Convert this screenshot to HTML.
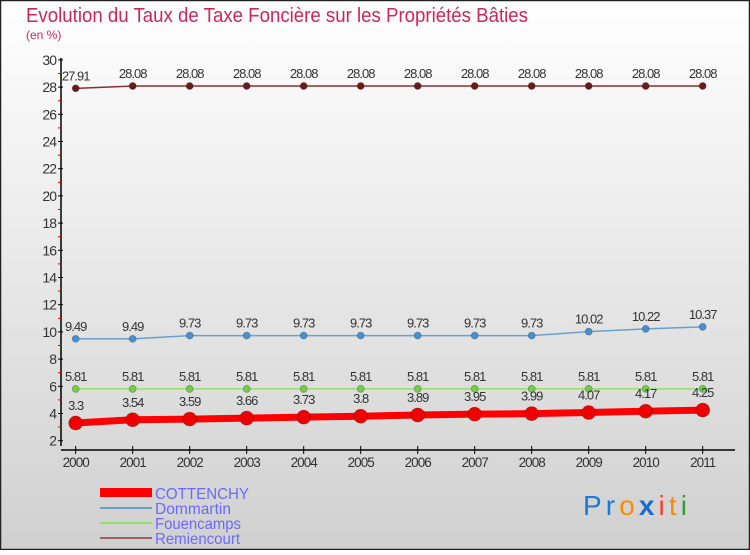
<!DOCTYPE html>
<html><head><meta charset="utf-8"><style>
html,body{margin:0;padding:0;}
body{width:750px;height:550px;overflow:hidden;font-family:"Liberation Sans",sans-serif;}
</style></head><body>
<svg width="750" height="550" xmlns="http://www.w3.org/2000/svg">
<defs>
<linearGradient id="bg" x1="0" y1="0" x2="0" y2="1">
<stop offset="0" stop-color="#ffffff"/><stop offset="1" stop-color="#d0d0d0"/>
</linearGradient>
</defs>
<rect x="0.5" y="0.5" width="749" height="549" fill="url(#bg)" stroke="#222" stroke-width="1.5"/>
<text x="26" y="22" font-size="20" fill="#c8285a" textLength="502" lengthAdjust="spacingAndGlyphs">Evolution du Taux de Taxe Foncière sur les Propriétés Bâties</text>
<text x="26" y="39" font-size="12" fill="#c8285a">(en %)</text>
<g id="axes"></g>
<g id="series"></g>
<g>
<rect x="100" y="488" width="52" height="9" fill="#ff0000"/>
<text x="155" y="499" font-size="16" fill="#6a6aff" textLength="94" lengthAdjust="spacingAndGlyphs">COTTENCHY</text>
<line x1="100" y1="508" x2="152" y2="508" stroke="#6aa0c8" stroke-width="2"/>
<text x="155" y="514" font-size="16" fill="#6a6aff" textLength="76" lengthAdjust="spacingAndGlyphs">Dommartin</text>
<line x1="100" y1="523" x2="152" y2="523" stroke="#90e070" stroke-width="2"/>
<text x="155" y="529" font-size="16" fill="#6a6aff" textLength="86" lengthAdjust="spacingAndGlyphs">Fouencamps</text>
<line x1="100" y1="538" x2="152" y2="538" stroke="#9a6060" stroke-width="2"/>
<text x="155" y="544" font-size="16" fill="#6a6aff" textLength="85" lengthAdjust="spacingAndGlyphs">Remiencourt</text>
</g>
<g font-size="28" font-family="'Liberation Sans',sans-serif">
<text x="583" y="515" textLength="104" lengthAdjust="spacing"><tspan fill="#1a7ad0">Pr</tspan><tspan fill="#ff8a00">o</tspan><tspan fill="#1a6ad0" font-weight="bold">x</tspan><tspan fill="#ff4020">i</tspan><tspan fill="#ff8a00">t</tspan><tspan fill="#30a030">i</tspan></text>
</g>
</svg>
<script>
const years=[2000,2001,2002,2003,2004,2005,2006,2007,2008,2009,2010,2011];
const yTicks=[2,4,6,8,10,12,14,16,18,20,22,24,26,28,30];
const cottenchy=[3.3,3.54,3.59,3.66,3.73,3.8,3.89,3.95,3.99,4.07,4.17,4.25];
const dommartin=[9.49,9.49,9.73,9.73,9.73,9.73,9.73,9.73,9.73,10.02,10.22,10.37];
const fouencamps=[5.81,5.81,5.81,5.81,5.81,5.81,5.81,5.81,5.81,5.81,5.81,5.81];
const remiencourt=[27.91,28.08,28.08,28.08,28.08,28.08,28.08,28.08,28.08,28.08,28.08,28.08];
const NS="http://www.w3.org/2000/svg";
const xs=i=>75.7+i*57;
const ys=v=>440.7-(v-2)*13.6;
function mk(tag,attrs,parent){const e=document.createElementNS(NS,tag);for(const k in attrs)e.setAttribute(k,attrs[k]);parent.appendChild(e);return e;}
const ax=document.getElementById('axes');
const yl=mk('line',{x1:61,y1:58,x2:61,y2:446,stroke:'#000','stroke-width':1.5},ax);


yTicks.forEach((t,i)=>{
  const tk=mk('line',{x1:58,x2:63,y1:ys(t),y2:ys(t),stroke:'#000'},ax);
  
  
  if(i<yTicks.length-1){const m=mk('line',{x1:58,x2:62,y1:ys(t+1),y2:ys(t+1),stroke:'#e00000'},ax);
  
  }
  const lb=mk('text',{x:56,y:ys(t)+5,'font-size':14,fill:'#333','text-anchor':'end','letter-spacing':'-1'},ax);
  lb.textContent=t;
  
  
});
const xl=mk('line',{x1:61,y1:450,x2:735,y2:450,stroke:'#000','stroke-width':1.5},ax);


years.forEach((y,i)=>{
  const tk=mk('line',{x1:xs(i),x2:xs(i),y1:446,y2:454,stroke:'#000'},ax);
  
  
  const lb=mk('text',{x:xs(i),y:467,'font-size':13.5,fill:'#333','text-anchor':'middle','letter-spacing':'-1'},ax);
  lb.textContent=y;
  
  
});
const sg=document.getElementById('series');
function draw(vals,name,color,dot,w,r,labOff){
  const g=mk('g',{},sg);
  
  
  const p=mk('polyline',{points:vals.map((v,i)=>xs(i)+','+ys(v)).join(' '),fill:'none',stroke:color,'stroke-width':w},g);
  
  
  vals.forEach((v,i)=>{
    const c=mk('circle',{cx:xs(i),cy:ys(v),r:r,fill:dot,stroke:'rgba(0,0,0,0.3)','stroke-width':0.7},g);
    
    
    const t=mk('text',{x:xs(i),y:ys(v)-labOff,'font-size':13,fill:'#333','text-anchor':'middle','letter-spacing':'-1'},g);
    t.textContent=v;
    
    
  });
}
draw(remiencourt,'remiencourt','#8a3030','#6a1a1a',1.5,3.5,8);
draw(dommartin,'dommartin','#6aa0d0','#4a90d0',1.5,3.5,8);
draw(fouencamps,'fouencamps','#90e070','#70d040',1.5,3.5,8);
draw(cottenchy,'cottenchy','#ff0000','#ee0000',7,7,13);
</script>
</body></html>
